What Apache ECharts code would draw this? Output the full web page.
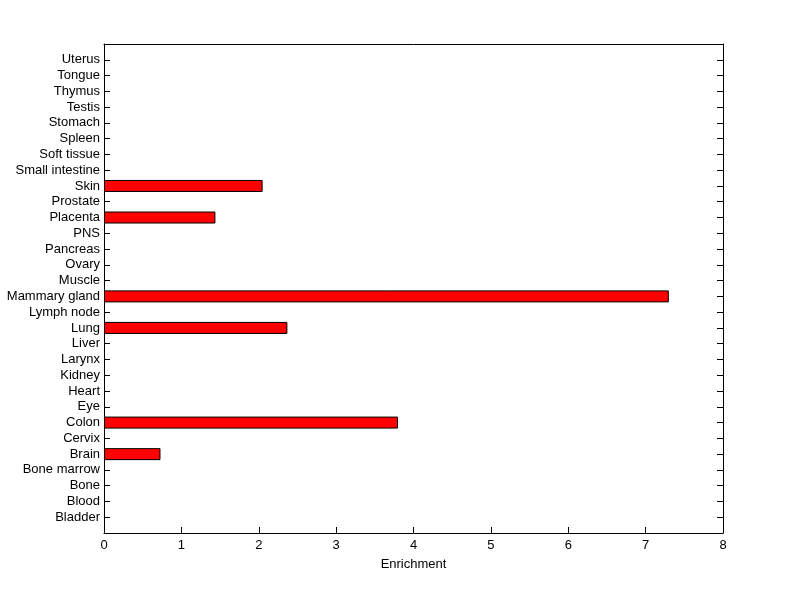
<!DOCTYPE html>
<html>
<head>
<meta charset="utf-8">
<script src="https://cdn.jsdelivr.net/npm/echarts@6/dist/echarts.min.js"></script>
<style>html,body{margin:0;padding:0;background:#fff;}#c{width:800px;height:599px;}</style>
</head>
<body>
<div id="c"></div>
<script>
const categories = ['Bladder','Blood','Bone','Bone marrow','Brain','Cervix','Colon','Eye','Heart','Kidney','Larynx','Liver','Lung','Lymph node','Mammary gland','Muscle','Ovary','Pancreas','PNS','Placenta','Prostate','Skin','Small intestine','Soft tissue','Spleen','Stomach','Testis','Thymus','Tongue','Uterus'];
const enrichment = [0,0,0,0,0.73,0,3.80,0,0,0,0,0,2.37,0,7.30,0,0,0,0,1.44,0,2.05,0,0,0,0,0,0,0,0];
const xTicks = [0,1,2,3,4,5,6,7,8];

const paddedCats = [''].concat(categories).concat(['']);
const barData = [null].concat(enrichment.map(v => v === 0 ? null : v)).concat([null]);
const font = 'Liberation Sans, Arial, sans-serif';
const fs = 13;
const line = {show: true, onZero: false, lineStyle: {color: '#000', width: 1}};

const chart = echarts.init(document.getElementById('c'), null, {renderer: 'canvas'});
chart.setOption({
  animation: false,
  backgroundColor: '#fff',
  grid: {left: 104, right: 77, top: 44, bottom: 66, show: false},
  xAxis: [{
    type: 'value', min: xTicks[0], max: xTicks[xTicks.length-1], interval: 1, position: 'bottom',
    name: 'Enrichment', nameLocation: 'middle', nameGap: 25,
    nameTextStyle: {color: '#000', fontSize: fs, fontFamily: font},
    axisLine: line,
    axisTick: {show: true, inside: true, length: 6, lineStyle: {color: '#000'}},
    axisLabel: {color: '#000', fontSize: fs, fontFamily: font, margin: 6},
    splitLine: {show: false}
  }, {
    type: 'value', min: xTicks[0], max: xTicks[xTicks.length-1], interval: 1, position: 'top',
    axisLine: line,
    axisTick: {show: false}, axisLabel: {show: false}, splitLine: {show: false}
  }],
  yAxis: [{
    type: 'category', data: paddedCats, boundaryGap: false, position: 'left',
    axisLine: line,
    axisTick: {show: true, inside: true, length: 6, lineStyle: {color: '#000'}},
    axisLabel: {color: '#000', fontSize: fs, fontFamily: font, margin: 4, interval: 0},
    splitLine: {show: false}
  }, {
    type: 'category', data: paddedCats, boundaryGap: false, position: 'right',
    axisLine: line,
    axisTick: {show: true, inside: true, length: 6, lineStyle: {color: '#000'}},
    axisLabel: {show: false},
    splitLine: {show: false}
  }],
  series: [{
    type: 'bar', xAxisIndex: 0, yAxisIndex: 0, data: barData, barWidth: 12,
    itemStyle: {color: '#ff0000', borderColor: '#000', borderWidth: 1}
  }]
});
</script>
</body>
</html>
